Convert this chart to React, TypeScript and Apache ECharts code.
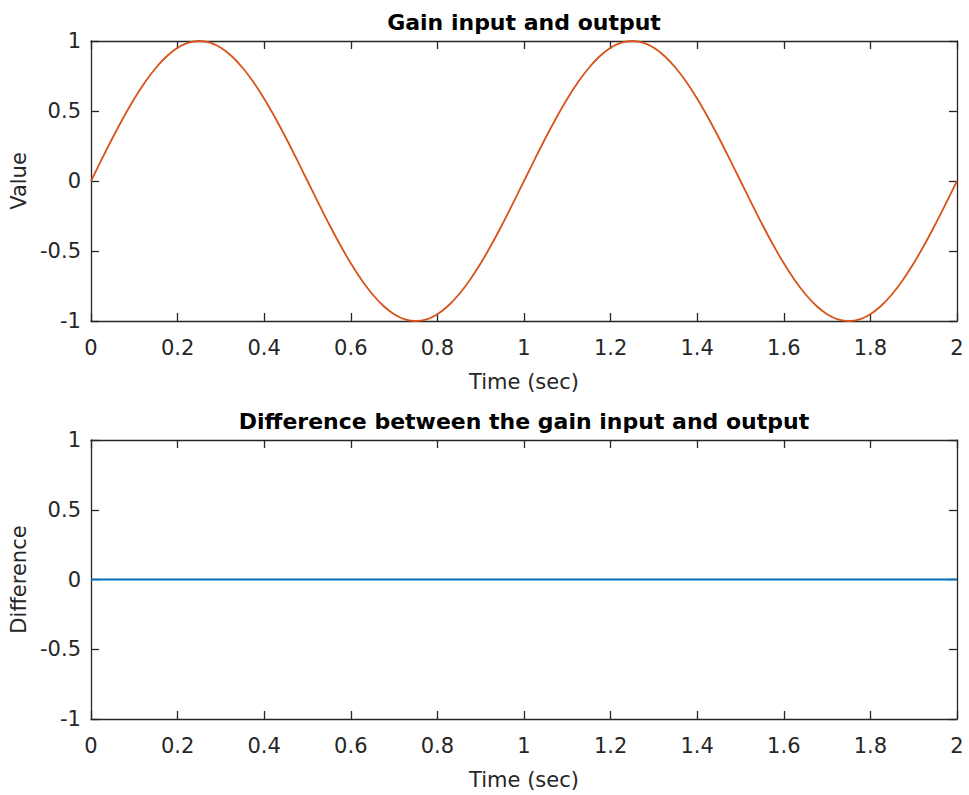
import React, { useEffect, useRef } from "react";
import * as echarts from "echarts";

const times = [
  0, 0.025, 0.05, 0.075, 0.1, 0.125, 0.15, 0.175, 0.2, 0.225, 0.25, 0.275, 0.3, 0.325, 0.35, 0.375, 0.4, 0.425, 0.45, 0.475,
  0.5, 0.525, 0.55, 0.575, 0.6, 0.625, 0.65, 0.675, 0.7, 0.725, 0.75, 0.775, 0.8, 0.825, 0.85, 0.875, 0.9, 0.925, 0.95, 0.975,
  1.0, 1.025, 1.05, 1.075, 1.1, 1.125, 1.15, 1.175, 1.2, 1.225, 1.25, 1.275, 1.3, 1.325, 1.35, 1.375, 1.4, 1.425, 1.45, 1.475,
  1.5, 1.525, 1.55, 1.575, 1.6, 1.625, 1.65, 1.675, 1.7, 1.725, 1.75, 1.775, 1.8, 1.825, 1.85, 1.875, 1.9, 1.925, 1.95, 1.975,
  2.0,
];
const gainValues = [
  0, 0.156, 0.309, 0.454, 0.588, 0.707, 0.809, 0.891, 0.951, 0.988, 1, 0.988, 0.951, 0.891, 0.809, 0.707, 0.588, 0.454, 0.309, 0.156,
  0, -0.156, -0.309, -0.454, -0.588, -0.707, -0.809, -0.891, -0.951, -0.988, -1, -0.988, -0.951, -0.891, -0.809, -0.707, -0.588, -0.454, -0.309, -0.156,
  0, 0.156, 0.309, 0.454, 0.588, 0.707, 0.809, 0.891, 0.951, 0.988, 1, 0.988, 0.951, 0.891, 0.809, 0.707, 0.588, 0.454, 0.309, 0.156,
  0, -0.156, -0.309, -0.454, -0.588, -0.707, -0.809, -0.891, -0.951, -0.988, -1, -0.988, -0.951, -0.891, -0.809, -0.707, -0.588, -0.454, -0.309, -0.156,
  0,
];
const diffTimes = [0, 2];
const diffValues = [0, 0];

const topTitle = "Gain input and output";
const bottomTitle = "Difference between the gain input and output";
const xName = "Time (sec)";
const topYName = "Value";
const bottomYName = "Difference";

const FONT = "DejaVu Sans";
const AX = "#262626";

export default function App() {
  const ref = useRef<HTMLDivElement>(null);
  useEffect(() => {
    document.body.style.margin = "0";
    const chart = echarts.init(ref.current!, null, { renderer: "svg" });
    const axisLine = { show: true, onZero: false, lineStyle: { color: AX, width: 1.3 } };
    const tick = { show: true, inside: true, length: 8, lineStyle: { color: AX, width: 1.3 } };
    const label = { color: AX, fontFamily: FONT, fontSize: 21 };
    const mkX = (gi: number, pos: "bottom" | "top", withLabel: boolean) => ({
      type: "value",
      gridIndex: gi,
      position: pos,
      min: 0,
      max: 2,
      interval: 0.2,
      axisLine,
      axisTick: tick,
      splitLine: { show: false },
      axisLabel: withLabel ? { ...label, margin: 16 } : { show: false },
      name: withLabel ? xName : undefined,
      nameLocation: "middle",
      nameGap: 50,
      nameTextStyle: { ...label },
    });
    const mkY = (gi: number, pos: "left" | "right", name: string | null) => ({
      type: "value",
      gridIndex: gi,
      position: pos,
      min: -1,
      max: 1,
      interval: 0.5,
      axisLine,
      axisTick: tick,
      splitLine: { show: false },
      axisLabel: name ? { ...label, margin: 10 } : { show: false },
      name: name || undefined,
      nameLocation: "middle",
      nameGap: 51,
      nameTextStyle: { ...label },
    });
    chart.setOption({
      animation: false,
      backgroundColor: "#ffffff",
      title: [
        {
          text: topTitle,
          left: 524,
          top: 11,
          padding: 0,
          textAlign: "center",
          textStyle: { fontFamily: FONT, fontSize: 22, fontWeight: "bold", color: "#000" },
        },
        {
          text: bottomTitle,
          left: 524,
          top: 410,
          padding: 0,
          textAlign: "center",
          textStyle: { fontFamily: FONT, fontSize: 22, fontWeight: "bold", color: "#000" },
        },
      ],
      grid: [
        { left: 91, top: 41, width: 866, height: 280 },
        { left: 91, top: 440, width: 866, height: 279 },
      ],
      xAxis: [mkX(0, "bottom", true), mkX(0, "top", false), mkX(1, "bottom", true), mkX(1, "top", false)],
      yAxis: [mkY(0, "left", topYName), mkY(0, "right", null), mkY(1, "left", bottomYName), mkY(1, "right", null)],
      series: [
        {
          type: "line",
          xAxisIndex: 0,
          yAxisIndex: 0,
          data: times.map((t, i) => [t, gainValues[i]]),
          smooth: 0.3,
          showSymbol: false,
          lineStyle: { color: "#D95319", width: 1.8 },
        },
        {
          type: "line",
          xAxisIndex: 2,
          yAxisIndex: 2,
          data: diffTimes.map((t, i) => [t, diffValues[i]]),
          showSymbol: false,
          lineStyle: { color: "#0072BD", width: 2 },
        },
      ],
    });
    return () => chart.dispose();
  }, []);
  return <div ref={ref} style={{ width: 969, height: 795 }} />;
}
